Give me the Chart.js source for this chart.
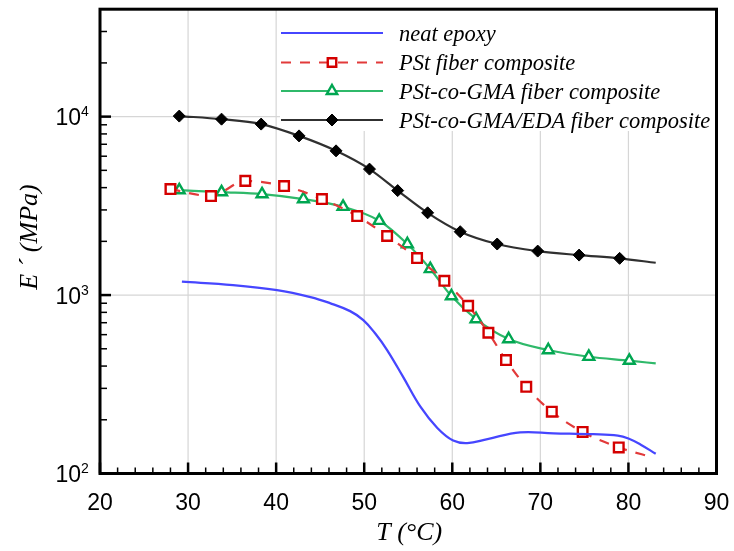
<!DOCTYPE html>
<html>
<head>
    <title>Storage modulus vs temperature</title>
    <style>
        body {
            margin: 0;
            background-color: #ffffff;
        }
        .chart-box {
            position: relative;
            width: 734px;
            height: 551px;
        }
    </style>
    <script src="https://cdn.jsdelivr.net/npm/chart.js@4.4.1/dist/chart.umd.min.js"></script>
</head>
<body>
    <div class="chart-box">
        <canvas id="modulusChart"></canvas>
    </div>

    <script>
        // values: T in °C, E' in MPa
        // (last point of each curve is where the line ends, no marker there)
        const epoxyT = [29.3, 35.1, 40.1, 43.9, 46.1, 48.4, 49.9, 51.3, 52.6, 54.4, 56.4, 58.3, 60.1, 61.7, 64.0, 67.7, 71.5, 76.0, 78.8, 80.0, 81.4, 83.1];
        const epoxyE = [1189, 1138, 1066, 975, 902, 813, 724, 605, 492, 349, 236, 180, 153, 148, 156, 170, 168, 166, 163, 157, 145, 129];

        const pstT = [28.0, 32.6, 36.5, 40.9, 45.2, 49.2, 52.6, 56.0, 59.1, 61.8, 64.1, 66.1, 68.4, 71.3, 74.8, 78.9, 82.8];
        const pstE = [3926, 3588, 4365, 4082, 3452, 2773, 2143, 1611, 1202, 871, 615, 432, 306, 222, 171, 140, 123];

        const gmaT = [29.0, 33.8, 38.4, 43.1, 47.6, 51.7, 54.9, 57.5, 59.9, 62.7, 66.4, 70.9, 75.5, 80.1, 83.1];
        const gmaE = [3873, 3774, 3680, 3452, 3126, 2610, 1931, 1400, 987, 734, 567, 492, 451, 429, 414];

        const edaT = [29.0, 33.8, 38.3, 42.6, 46.8, 50.6, 53.8, 57.2, 60.9, 65.1, 69.7, 74.4, 79.0, 83.1];
        const edaE = [10070, 9680, 9080, 7800, 6430, 5080, 3850, 2890, 2265, 1932, 1764, 1675, 1606, 1517];

        const seriesNames = ['neat epoxy', 'PSt fiber composite', 'PSt-co-GMA fiber composite', 'PSt-co-GMA/EDA fiber composite'];

        const xMin = 20, xMax = 90;
        const xLabels = [20, 30, 40, 50, 60, 70, 80, 90];
        const yMin = 100, yMax = 40000;
        const yDecades = [100, 1000, 10000];
        const yExponents = ['2', '3', '4'];

        function toPoints(ts, es) {
            return ts.map((t, i) => ({ x: t, y: es[i] }));
        }

        // hide the marker on the closing point of a curve
        function markerRadius(r) {
            return ctx => ctx.dataIndex === ctx.dataset.data.length - 1 ? 0 : r;
        }

        const tickFont = '23px "Liberation Sans", Arial, sans-serif';
        const titleFont = 'italic 26px "Liberation Serif", "Times New Roman", serif';
        const legendFont = 'italic 22.5px "Liberation Serif", "Times New Roman", serif';

        const legendRows = [33, 62.5, 91, 120];
        const legendBox = { left: 280, bottom: 131 };

        function drawMarker(ctx, style, x, y, r, stroke, fill, bw) {
            ctx.save();
            ctx.lineWidth = bw;
            ctx.strokeStyle = stroke;
            ctx.fillStyle = fill;
            ctx.setLineDash([]);
            ctx.beginPath();
            if (style === 'rect') {
                const s = r * Math.SQRT1_2;
                ctx.rect(x - s, y - s, 2 * s, 2 * s);
            } else if (style === 'triangle') {
                for (let k = 0; k < 3; k++) {
                    const a = -Math.PI / 2 + k * 2 * Math.PI / 3;
                    const px = x + Math.cos(a) * r, py = y + Math.sin(a) * r;
                    k === 0 ? ctx.moveTo(px, py) : ctx.lineTo(px, py);
                }
                ctx.closePath();
            } else if (style === 'rectRot') {
                ctx.moveTo(x, y - r);
                ctx.lineTo(x + r, y);
                ctx.lineTo(x, y + r);
                ctx.lineTo(x - r, y);
                ctx.closePath();
            }
            ctx.fill();
            ctx.stroke();
            ctx.restore();
        }

        const axesPlugin = {
            id: 'axesPlugin',
            beforeDatasetsDraw(chart) {
                const { ctx, chartArea: a, scales: { x, y } } = chart;
                ctx.save();
                ctx.strokeStyle = '#d6d6d6';
                ctx.lineWidth = 1.2;
                xLabels.forEach(t => {
                    if (t === xMin || t === xMax) return;
                    const px = x.getPixelForValue(t);
                    ctx.beginPath();
                    ctx.moveTo(px, a.top);
                    ctx.lineTo(px, a.bottom);
                    ctx.stroke();
                });
                yDecades.forEach(v => {
                    if (v === yMin) return;
                    const py = y.getPixelForValue(v);
                    ctx.beginPath();
                    ctx.moveTo(a.left, py);
                    ctx.lineTo(a.right, py);
                    ctx.stroke();
                });
                // legend background hides the grid behind it
                ctx.fillStyle = '#ffffff';
                ctx.fillRect(legendBox.left, a.top, a.right - legendBox.left, legendBox.bottom - a.top);
                ctx.restore();
            },
            afterDatasetsDraw(chart) {
                const { ctx, chartArea: a, scales: { x, y } } = chart;
                ctx.save();

                // ticks pointing inward
                ctx.strokeStyle = '#000000';
                for (let t = xMin; t <= xMax; t += 2) {
                    const major = t % 10 === 0;
                    const px = x.getPixelForValue(t);
                    ctx.lineWidth = major ? 2.5 : 1.5;
                    ctx.beginPath();
                    ctx.moveTo(px, a.bottom);
                    ctx.lineTo(px, a.bottom - (major ? 11 : 6));
                    ctx.stroke();
                }
                yDecades.forEach(d => {
                    for (let k = 1; k <= 9; k++) {
                        const v = d * k;
                        if (v > yMax) break;
                        const py = y.getPixelForValue(v);
                        ctx.lineWidth = k === 1 ? 2.5 : 1.5;
                        ctx.beginPath();
                        ctx.moveTo(a.left, py);
                        ctx.lineTo(a.left + (k === 1 ? 11 : 7), py);
                        ctx.stroke();
                    }
                });

                // frame
                ctx.lineWidth = 3;
                ctx.strokeRect(a.left, a.top, a.right - a.left, a.bottom - a.top);

                // tick labels
                ctx.fillStyle = '#000000';
                ctx.font = tickFont;
                ctx.textAlign = 'center';
                ctx.textBaseline = 'alphabetic';
                xLabels.forEach(t => {
                    ctx.fillText(String(t), x.getPixelForValue(t), a.bottom + 36);
                });
                yDecades.forEach((d, i) => {
                    const py = y.getPixelForValue(d);
                    ctx.font = tickFont;
                    ctx.textAlign = 'right';
                    ctx.fillText('10', a.left - 19, py + 8.5);
                    ctx.font = '14px "Liberation Sans", Arial, sans-serif';
                    ctx.textAlign = 'left';
                    ctx.fillText(yExponents[i], a.left - 19, py - 0.5);
                });

                // axis titles
                ctx.font = titleFont;
                ctx.textAlign = 'center';
                ctx.fillText('T (\u00B0C)', (a.left + a.right) / 2 + 1, a.bottom + 66);
                ctx.save();
                ctx.translate(30, 237);
                ctx.rotate(-Math.PI / 2);
                ctx.textBaseline = 'middle';
                ctx.fillText('E \u00B4 (MPa)', 0, 0);
                ctx.restore();

                // legend entries
                const styles = chart.data.datasets;
                const markerStyles = [null, 'rect', 'triangle', 'rectRot'];
                const lx0 = 281, lx1 = 383, lmid = 332;
                styles.forEach((ds, i) => {
                    const ly = legendRows[i];
                    ctx.save();
                    ctx.strokeStyle = ds.borderColor;
                    ctx.lineWidth = 2.2;
                    ctx.setLineDash(ds.borderDash || []);
                    ctx.beginPath();
                    ctx.moveTo(lx0, ly);
                    ctx.lineTo(lx1, ly);
                    ctx.stroke();
                    ctx.restore();
                    if (markerStyles[i]) {
                        drawMarker(ctx, markerStyles[i], lmid, ly, 6,
                            ds.pointBorderColor, ds.pointBackgroundColor, ds.pointBorderWidth);
                    }
                    ctx.font = legendFont;
                    ctx.textAlign = 'left';
                    ctx.textBaseline = 'alphabetic';
                    ctx.fillStyle = '#000000';
                    ctx.fillText(seriesNames[i], 399, ly + 7.5);
                });

                ctx.restore();
            }
        };

        const chart = new Chart(document.getElementById('modulusChart'), {
            type: 'line',
            data: {
                datasets: [
                    {
                        label: seriesNames[0],
                        data: toPoints(epoxyT, epoxyE),
                        borderColor: '#4646ff',
                        borderWidth: 2.3,
                        pointRadius: 0,
                        tension: 0.4
                    },
                    {
                        label: seriesNames[1],
                        data: toPoints(pstT, pstE),
                        borderColor: '#e23a3a',
                        borderWidth: 2.2,
                        borderDash: [10, 9],
                        pointStyle: 'rect',
                        pointRadius: markerRadius(6.8),
                        pointBorderColor: '#d40000',
                        pointBackgroundColor: '#ffffff',
                        pointBorderWidth: 2.4,
                        cubicInterpolationMode: 'monotone'
                    },
                    {
                        label: seriesNames[2],
                        data: toPoints(gmaT, gmaE),
                        borderColor: '#2fb96a',
                        borderWidth: 2.2,
                        pointStyle: 'triangle',
                        pointRadius: markerRadius(6.3),
                        pointBorderColor: '#00a651',
                        pointBackgroundColor: '#ffffff',
                        pointBorderWidth: 2.4,
                        cubicInterpolationMode: 'monotone'
                    },
                    {
                        label: seriesNames[3],
                        data: toPoints(edaT, edaE),
                        borderColor: '#303030',
                        borderWidth: 2.2,
                        pointStyle: 'rectRot',
                        pointRadius: markerRadius(6),
                        pointBorderColor: '#000000',
                        pointBackgroundColor: '#000000',
                        pointBorderWidth: 1,
                        cubicInterpolationMode: 'monotone'
                    }
                ]
            },
            options: {
                responsive: true,
                maintainAspectRatio: false,
                animation: false,
                layout: {
                    padding: { left: 100, right: 17.5, top: 8, bottom: 77.5 }
                },
                plugins: {
                    legend: { display: false },
                    tooltip: { enabled: false }
                },
                scales: {
                    x: { type: 'linear', min: xMin, max: xMax, display: false },
                    y: { type: 'logarithmic', min: yMin, max: yMax, display: false }
                }
            },
            plugins: [axesPlugin]
        });
    </script>
</body>
</html>
